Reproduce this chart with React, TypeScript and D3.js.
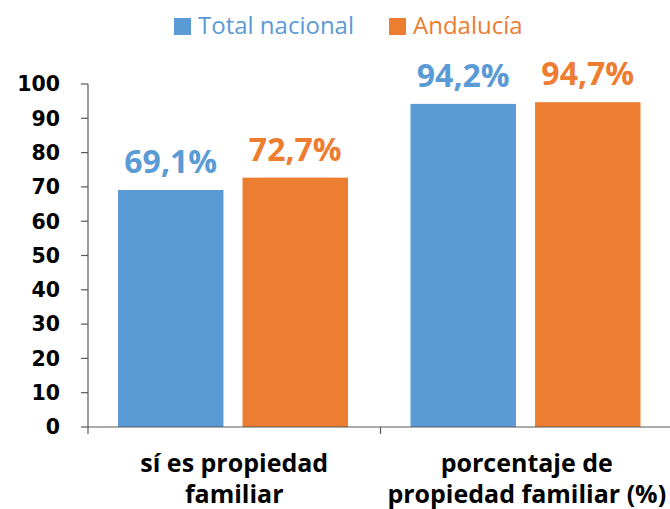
import React from 'react';
import * as d3 from 'd3';

const categories = ['sí es propiedad familiar', 'porcentaje de propiedad familiar (%)'];
const categoryLines = [['sí es propiedad', 'familiar'], ['porcentaje de', 'propiedad familiar (%)']];
const seriesNames = ['Total nacional', 'Andalucía'];
const totalNacional = [69.1, 94.2];
const andalucia = [72.7, 94.7];
const yTicks = [0, 10, 20, 30, 40, 50, 60, 70, 80, 90, 100];
const colors = ['#5B9BD5', '#ED7D31'];

const W = 670;
const H = 509;
const margin = { top: 84, right: 0, bottom: 82, left: 88 };

export default function App() {
  const x = d3.scaleBand<string>()
    .domain(categories)
    .range([margin.left, margin.left + 585]);
  const inner = d3.scaleBand<string>()
    .domain(seriesNames)
    .range([30, 30 + 230])
    .paddingInner(19 / 124);
  const y = d3.scaleLinear().domain([0, 100]).range([H - margin.bottom, margin.top]);

  const fmt = (v: number) => v.toFixed(1).replace('.', ',') + '%';
  const series = [totalNacional, andalucia];
  const y0 = y(0);
  const tickFont = '"DejaVu Sans", Verdana, sans-serif';
  const textFont = '"Open Sans", "Noto Sans", sans-serif';

  return (
    <svg width={W} height={H} style={{ position: 'absolute', left: 0, top: 0, background: '#fff' }}>
      {/* legend */}
      <g fontFamily={textFont} fontSize={24}>
        <rect x={174} y={18} width={17} height={17} fill={colors[0]} />
        <text x={198} y={34} fill={colors[0]}>{seriesNames[0]}</text>
        <rect x={389} y={18} width={17} height={17} fill={colors[1]} />
        <text x={413} y={34} fill={colors[1]}>{seriesNames[1]}</text>
      </g>

      {/* bars */}
      {categories.map((c, ci) =>
        seriesNames.map((s, si) => {
          const v = series[si][ci];
          const bx = (x(c) ?? 0) + (inner(s) ?? 0);
          return (
            <g key={c + s}>
              <rect x={bx} y={y(v)} width={inner.bandwidth()} height={y0 - y(v)} fill={colors[si]} />
              <text
                x={bx + inner.bandwidth() / 2}
                y={y(v) - 17}
                textAnchor="middle"
                fontFamily={textFont}
                fontWeight="bold"
                fontSize={32}
                fill={colors[si]}
              >
                {fmt(v)}
              </text>
            </g>
          );
        })
      )}

      {/* y axis */}
      <line x1={margin.left} x2={margin.left} y1={y(100)} y2={y0} stroke="#595959" strokeWidth={1.2} />
      {yTicks.map(t => (
        <g key={t}>
          <line x1={margin.left - 7} x2={margin.left} y1={y(t)} y2={y(t)} stroke="#595959" strokeWidth={1.2} />
          <text
            x={60}
            y={y(t)}
            dy="0.36em"
            textAnchor="end"
            fontFamily={tickFont}
            fontWeight="bold"
            fontSize={20.5}
            fill="#000"
          >
            {t}
          </text>
        </g>
      ))}

      {/* x axis */}
      <line x1={margin.left} x2={margin.left + 585} y1={y0} y2={y0} stroke="#595959" strokeWidth={1.2} />
      {[0, 1, 2].map(i => {
        const tx = margin.left + i * x.bandwidth();
        return <line key={i} x1={tx} x2={tx} y1={y0} y2={y0 + 7} stroke="#595959" strokeWidth={1.2} />;
      })}
      {categories.map((c, ci) => (
        <text
          key={c}
          x={(x(c) ?? 0) + x.bandwidth() / 2}
          textAnchor="middle"
          fontFamily={textFont}
          fontWeight="bold"
          fontSize={25}
          fill="#000"
        >
          {categoryLines[ci].map((l, li) => (
            <tspan key={li} x={(x(c) ?? 0) + x.bandwidth() / 2} y={472 + li * 31}>{l}</tspan>
          ))}
        </text>
      ))}
    </svg>
  );
}
